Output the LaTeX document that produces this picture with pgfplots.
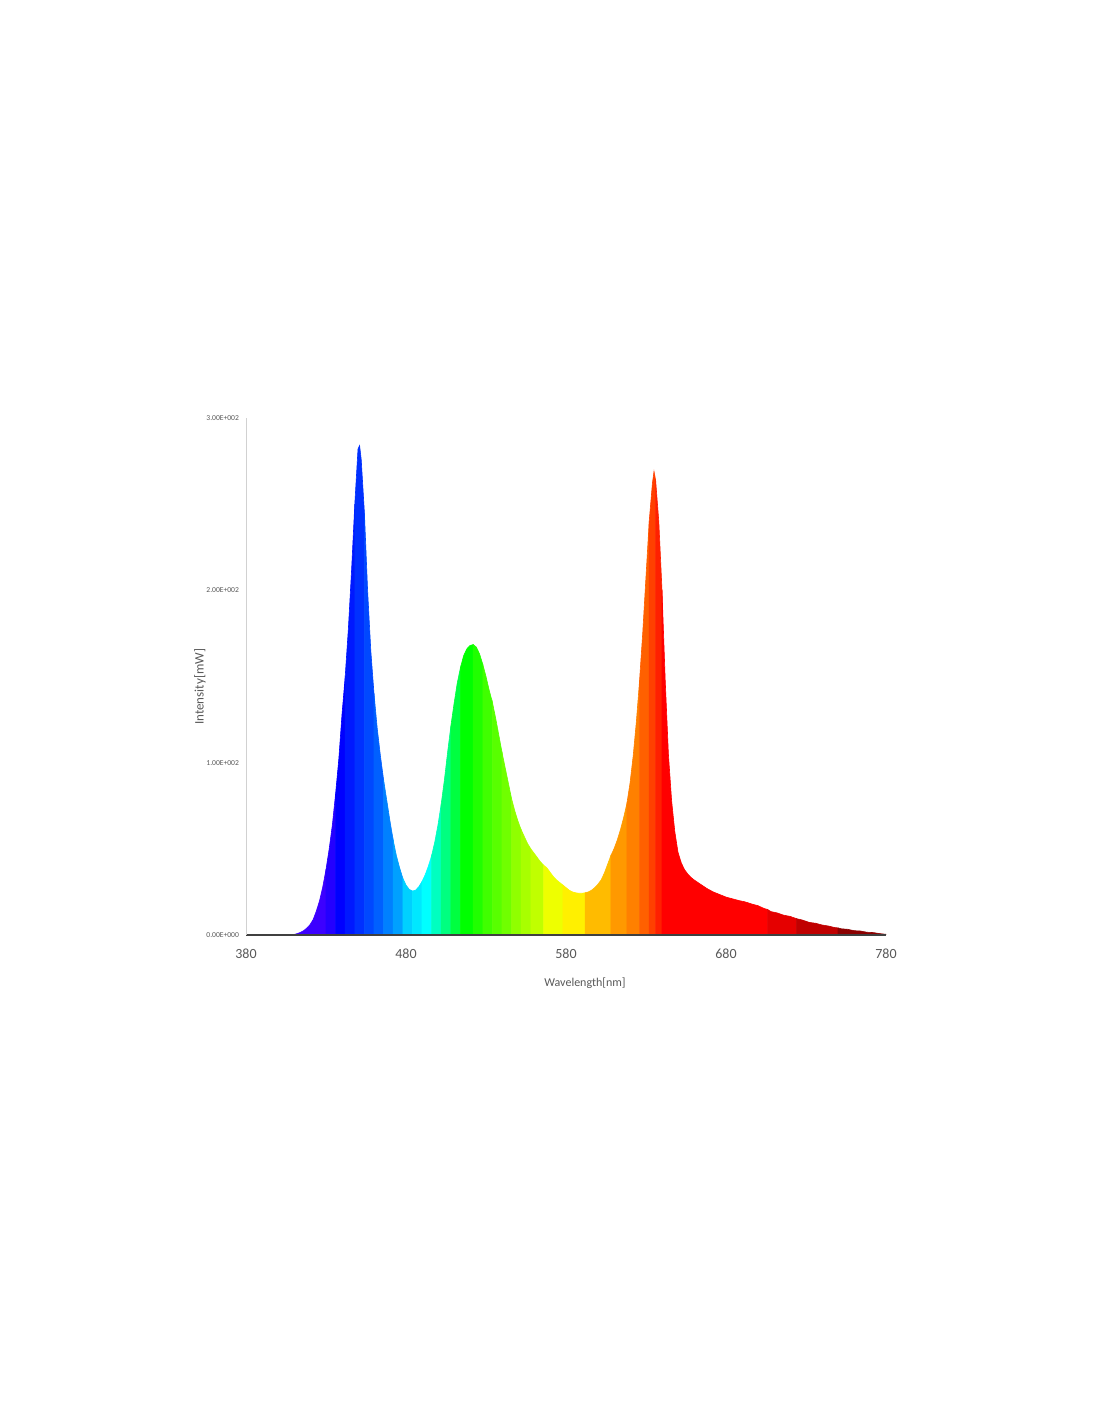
\documentclass[border=0pt]{standalone}
\usepackage{fontspec}
\setmainfont{Carlito}
\usepackage{pgfplots}
\pgfplotsset{compat=1.18}
\usepackage{pgfplotstable}

\pgfplotstableread{
wl val
380 0
400 0
406 0
408 0.1
410 0.3
412 0.8
414 1.5
416 2.5
418 4
420 6
422 9
424 14
426 20
428 28
430 38
432 50
434 64
436 82
438 102
440 128
442 150
444 178
446 212
448 250
450 282
451 284
452 276
454 245
456 200
458 165
460 140
462 120
464 104
466 90
468 78
470 66
472 55
474 46
476 39
478 33
480 29
482 26.5
484 25.5
486 26
488 28
490 31
492 35
494 40
496 46
498 54
500 64
502 76
504 90
506 106
508 121
510 134
512 146
514 155
516 162
518 166
520 168
522 168.5
524 167
526 163
528 157
530 150
532 142
534 135
536 126
538 116
540 106
542 97
544 88
546 79
548 72
550 66
552 61
554 57
556 53
558 50
560 47.5
562 45
564 42.5
566 40.5
568 39
570 36.5
572 34
574 32
576 30.5
578 29
580 27.5
582 26
584 25
586 24.5
588 24.2
590 24.2
592 24.5
594 25
596 26
598 27.5
600 29.5
602 32
604 36
606 41
608 46
610 50
612 55
614 61
616 68
618 76
620 88
622 104
624 124
626 148
628 176
630 208
632 240
634 262
635 269
636 264
638 240
640 200
642 148
644 105
646 78
648 60
650 48
652 42
654 38
656 35.5
658 33.5
660 32
664 29.5
668 27
672 25
676 23.5
680 22
684 21
688 20
692 19.2
696 18
700 17
704 15.3
706 14.8
708 13.6
712 12.8
716 11.5
720 10.8
724 9.5
728 8.6
732 7.3
736 6.8
740 5.8
744 5.2
748 4.3
750 4.1
752 3.6
756 3.3
760 2.5
764 2.3
768 1.6
772 1.4
776 0.8
780 0.4
}\spec

\definecolor{b01}{HTML}{3C00FF}
\definecolor{b02}{HTML}{2400FF}
\definecolor{b03}{HTML}{0000FF}
\definecolor{b04}{HTML}{0018FF}
\definecolor{b05}{HTML}{0030FF}
\definecolor{b06}{HTML}{0048FF}
\definecolor{b07}{HTML}{0060FF}
\definecolor{b08}{HTML}{0080FF}
\definecolor{b09}{HTML}{00A0FF}
\definecolor{b10}{HTML}{00D0FF}
\definecolor{b11}{HTML}{00E8FF}
\definecolor{b12}{HTML}{00FFFF}
\definecolor{b13}{HTML}{00FFC0}
\definecolor{b14}{HTML}{00FF80}
\definecolor{b15}{HTML}{00FF40}
\definecolor{b16}{HTML}{00FF00}
\definecolor{b17}{HTML}{20FF00}
\definecolor{b18}{HTML}{40FF00}
\definecolor{b19}{HTML}{58FF00}
\definecolor{b20}{HTML}{70FF00}
\definecolor{b21}{HTML}{90FF00}
\definecolor{b22}{HTML}{A8FF00}
\definecolor{b23}{HTML}{C0FF00}
\definecolor{b24}{HTML}{EEFF00}
\definecolor{b25}{HTML}{FFF000}
\definecolor{b26}{HTML}{FFBB00}
\definecolor{b27}{HTML}{FF9900}
\definecolor{b28}{HTML}{FF8000}
\definecolor{b29}{HTML}{FF6000}
\definecolor{b30}{HTML}{FF4000}
\definecolor{b30b}{HTML}{FF2000}
\definecolor{b31}{HTML}{FF0000}
\definecolor{b32}{HTML}{E50000}
\definecolor{b33}{HTML}{C00000}
\definecolor{b34}{HTML}{8B0000}
\definecolor{tickgray}{HTML}{595959}

\newcommand{\band}[3]{\addplot[fill=#3, draw=#3, line width=0.3pt] table[x=wl, y=val, restrict x to domain=#1:#2] {\spec} \closedcycle;}

\begin{document}
\begin{tikzpicture}
\fill[white] (0,0) rectangle (550pt,711pt);
\useasboundingbox (0,0) rectangle (550pt,711pt);
\begin{axis}[
  at={(123pt,243.5pt)}, anchor=south west,
  scale only axis, width=320pt, height=258.5pt,
  xmin=380, xmax=780, ymin=0, ymax=300,
  axis x line*=bottom, axis y line*=left,
  x axis line style={draw=black!75, line width=0.6pt, -},
  y axis line style={draw=black!18, line width=0.5pt, -},
  major tick length=0pt,
  xtick={380,480,580,680,780},
  xticklabels={380,480,580,680,780},
  ytick={0,100,200,300},
  yticklabels={0.00E+000,1.00E+002,2.00E+002,3.00E+002},
  xticklabel style={font=\fontsize{7}{8}\selectfont, text=tickgray, yshift=-3.5pt},
  yticklabel style={font=\fontsize{3.8}{4.5}\selectfont, text=tickgray, xshift=0pt},
  xlabel={Wavelength[nm]},
  xlabel style={font=\fontsize{6}{7}\selectfont, text=tickgray, at={(axis description cs:0.5,0)}, anchor=center, yshift=-24pt, xshift=9.5pt},
  ylabel={Intensity[mW]},
  ylabel style={font=\fontsize{6.5}{7.5}\selectfont, text=tickgray, at={(axis description cs:-0.072,0.48)}, anchor=center},
  axis on top,
]
\band{380}{430}{b01}
\band{430}{436}{b02}
\band{436}{442}{b03}
\band{442}{448}{b04}
\band{448}{454}{b05}
\band{454}{460}{b06}
\band{460}{466}{b07}
\band{466}{472}{b08}
\band{472}{478}{b09}
\band{478}{484}{b10}
\band{484}{490}{b11}
\band{490}{496}{b12}
\band{496}{502}{b13}
\band{502}{508}{b14}
\band{508}{514}{b15}
\band{514}{522}{b16}
\band{522}{528}{b17}
\band{528}{534}{b18}
\band{534}{540}{b19}
\band{540}{546}{b20}
\band{546}{552}{b21}
\band{552}{558}{b22}
\band{558}{566}{b23}
\band{566}{578}{b24}
\band{578}{592}{b25}
\band{592}{608}{b26}
\band{608}{618}{b27}
\band{618}{626}{b28}
\band{626}{632}{b29}
\band{632}{636}{b30}
\band{636}{640}{b30b}
\band{640}{706}{b31}
\band{706}{724}{b32}
\band{724}{750}{b33}
\band{750}{780}{b34}
\end{axis}
\end{tikzpicture}
\end{document}
